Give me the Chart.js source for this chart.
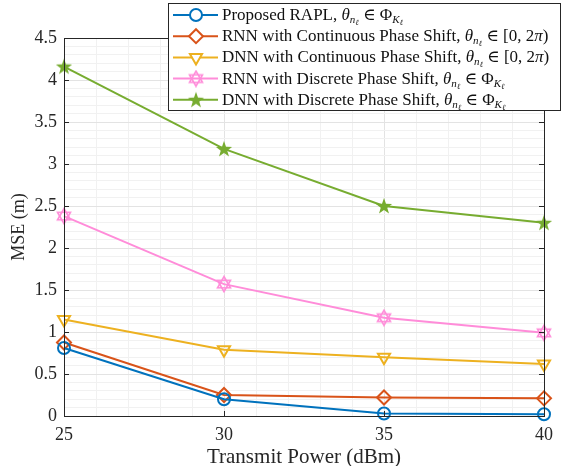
<!DOCTYPE html>
<html>
<head>
<meta charset="utf-8">
<script src="https://cdn.jsdelivr.net/npm/chart.js@4/dist/chart.umd.min.js"></script>
<style>
  html, body { margin: 0; padding: 0; background: #fff; }
  #wrap { width: 563px; height: 466px; }
</style>
</head>
<body>
<div id="wrap"><canvas id="grafica"></canvas></div>
<script>
var potencia = [25, 30, 35, 40];
var rapl = [0.81, 0.20, 0.03, 0.02];
var rnnCont = [0.875, 0.25, 0.22, 0.21];
var dnnCont = [1.15, 0.79, 0.70, 0.62];
var rnnDisc = [2.38, 1.57, 1.17, 0.99];
var dnnDisc = [4.16, 3.18, 2.50, 2.30];
var yTicks = [0, 0.5, 1, 1.5, 2, 2.5, 3, 3.5, 4, 4.5];
var xTicks = [25, 30, 35, 40];

var serif = "'Liberation Serif', 'DejaVu Serif', serif";

function puntos(ys) {
    return ys.map(function (y, i) { return { x: potencia[i], y: y }; });
}

function estrella(n, color, relleno) {
    var c = document.createElement('canvas');
    c.width = 18; c.height = 18;
    var g = c.getContext('2d');
    g.strokeStyle = color; g.fillStyle = color; g.lineWidth = 1.6;
    if (n === 5) {
        g.beginPath();
        for (var i = 0; i < 10; i++) {
            var r = i % 2 === 0 ? 8.5 : 3.4;
            var a = -Math.PI / 2 + i * Math.PI / 5;
            g.lineTo(9 + r * Math.cos(a), 9.6 + r * Math.sin(a));
        }
        g.closePath();
        if (relleno) g.fill(); else g.stroke();
    } else {
        for (var k = 0; k < 2; k++) {
            g.beginPath();
            for (var j = 0; j < 3; j++) {
                var b = (k === 0 ? -Math.PI / 2 : Math.PI / 2) + j * 2 * Math.PI / 3;
                g.lineTo(9 + 7.5 * Math.cos(b), 9 + 7.5 * Math.sin(b));
            }
            g.closePath();
            g.stroke();
        }
    }
    return c;
}

var hexagrama = estrella(6, '#ff8cd9', false);
var pentagrama = estrella(5, '#77ac30', true);

var series = [
    { label: 'Proposed RAPL, ', fin: 'phi', data: rapl, color: '#0072bd', pointStyle: 'circle', radius: 6, rotation: 0 },
    { label: 'RNN with Continuous Phase Shift, ', fin: 'int', data: rnnCont, color: '#d95319', pointStyle: 'rectRot', radius: 7, rotation: 0 },
    { label: 'DNN with Continuous Phase Shift, ', fin: 'int', data: dnnCont, color: '#edb120', pointStyle: 'triangle', radius: 7, rotation: 180 },
    { label: 'RNN with Discrete Phase Shift, ', fin: 'phi', data: rnnDisc, color: '#ff8cd9', pointStyle: hexagrama, radius: 7, rotation: 0 },
    { label: 'DNN with Discrete Phase Shift, ', fin: 'phi', data: dnnDisc, color: '#77ac30', pointStyle: pentagrama, radius: 7, rotation: 0 }
];

// caja, marcas interiores y leyenda estilo MATLAB
var marcoPlugin = {
    id: 'marco',
    afterDraw: function (chart) {
        var ctx = chart.ctx, a = chart.chartArea;
        var sx = chart.scales.x, sy = chart.scales.y;
        ctx.save();
        ctx.strokeStyle = '#262626';
        ctx.lineWidth = 1;
        ctx.strokeRect(Math.round(a.left) + 0.5, Math.round(a.top) + 0.5,
            Math.round(a.right - a.left), Math.round(a.bottom - a.top));
        ctx.beginPath();
        yTicks.forEach(function (v) {
            var y = Math.round(sy.getPixelForValue(v)) + 0.5;
            ctx.moveTo(a.left, y); ctx.lineTo(a.left + 5, y);
            ctx.moveTo(a.right, y); ctx.lineTo(a.right - 5, y);
        });
        xTicks.forEach(function (v) {
            var x = Math.round(sx.getPixelForValue(v)) + 0.5;
            ctx.moveTo(x, a.bottom); ctx.lineTo(x, a.bottom - 5);
            ctx.moveTo(x, a.top); ctx.lineTo(x, a.top + 5);
        });
        ctx.stroke();

        // leyenda
        var lx = 168, ly = 3, lw = 392, lh = 107;
        ctx.fillStyle = '#fff';
        ctx.fillRect(lx, ly, lw, lh);
        ctx.strokeStyle = '#262626';
        ctx.strokeRect(lx + 0.5, ly + 0.5, lw, lh);
        series.forEach(function (s, i) {
            var y = 15 + i * 21.2;
            ctx.strokeStyle = s.color;
            ctx.lineWidth = 2;
            ctx.beginPath();
            ctx.moveTo(173, y); ctx.lineTo(218, y);
            ctx.stroke();
            ctx.fillStyle = '#fff';
            Chart.helpers.drawPoint(ctx, {
                pointStyle: s.pointStyle, radius: s.radius, rotation: s.rotation, borderWidth: 2
            }, 196, y);
            ctx.fillStyle = '#111';
            textoMath(ctx, s.label, s.fin, 222, y + 5);
        });
        ctx.restore();
    }
};

function textoMath(ctx, texto, fin, x, base) {
    ctx.textAlign = 'left';
    ctx.textBaseline = 'alphabetic';
    var partes = [
        { t: texto, f: '17px ' + serif, dy: 0 },
        { t: '\u03b8', f: 'italic 17px ' + serif, dy: 0 },
        { t: 'n', f: 'italic 11px ' + serif, dy: 3 },
        { t: '\u2113', f: 'italic 8px ' + serif, dy: 5 }
    ];
    if (fin === 'phi') {
        partes.push({ t: ' \u2208 \u03a6', f: '17px ' + serif, dy: 0 });
        partes.push({ t: 'K', f: 'italic 11px ' + serif, dy: 3 });
        partes.push({ t: '\u2113', f: 'italic 8px ' + serif, dy: 5 });
    } else {
        partes.push({ t: ' \u2208 [0, 2', f: '17px ' + serif, dy: 0 });
        partes.push({ t: '\u03c0', f: 'italic 17px ' + serif, dy: 0 });
        partes.push({ t: ')', f: '17px ' + serif, dy: 0 });
    }
    partes.forEach(function (p) {
        ctx.font = p.f;
        ctx.fillText(p.t, x, base + p.dy);
        x += ctx.measureText(p.t).width;
    });
}

var ctx = document.getElementById('grafica').getContext('2d');
var chart = new Chart(ctx, {
    type: 'line',
    plugins: [marcoPlugin],
    data: {
        datasets: series.map(function (s) {
            return {
                label: s.label,
                data: puntos(s.data),
                borderColor: s.color,
                backgroundColor: '#fff',
                pointBorderColor: s.color,
                pointBackgroundColor: 'rgba(255,255,255,0)',
                pointStyle: s.pointStyle,
                pointRadius: s.radius,
                pointRotation: s.rotation,
                pointBorderWidth: 2,
                borderWidth: 2,
                tension: 0,
                clip: false
            };
        })
    },
    options: {
        responsive: true,
        maintainAspectRatio: false,
        animation: false,
        layout: { padding: { top: 38, right: 19, left: 0, bottom: 0 } },
        plugins: { legend: { display: false }, tooltip: { enabled: false } },
        scales: {
            x: {
                type: 'linear',
                min: 25, max: 40,
                afterFit: function (scale) { scale.height = 50; },
                afterBuildTicks: function (scale) {
                    var t = [];
                    for (var v = 25; v <= 40; v++) t.push({ value: v });
                    scale.ticks = t;
                },
                ticks: {
                    autoSkip: false, maxRotation: 0, padding: 8,
                    color: '#262626',
                    font: { family: serif, size: 18 },
                    callback: function (v) { return v % 5 === 0 ? String(v) : ''; }
                },
                grid: {
                    drawTicks: false,
                    color: function (c) { return c.tick && c.tick.value % 5 === 0 ? '#e3e3e3' : '#f1f1f1'; }
                },
                border: { display: false },
                title: {
                    display: true, text: 'Transmit Power (dBm)', color: '#262626',
                    font: { family: serif, size: 21, lineHeight: 1 }, padding: { top: 0, bottom: -2 }
                }
            },
            y: {
                min: 0, max: 4.5,
                afterFit: function (scale) { scale.width = 64; },
                afterBuildTicks: function (scale) {
                    var t = [];
                    for (var i = 0; i <= 45; i++) t.push({ value: i / 10 });
                    scale.ticks = t;
                },
                ticks: {
                    autoSkip: false, padding: 7,
                    color: '#262626',
                    font: { family: serif, size: 18 },
                    callback: function (v) {
                        var k = Math.round(v * 10);
                        return k % 5 === 0 ? String(k / 10) : '';
                    }
                },
                grid: {
                    drawTicks: false,
                    color: function (c) {
                        if (!c.tick) return '#f1f1f1';
                        return Math.round(c.tick.value * 10) % 5 === 0 ? '#e3e3e3' : '#f1f1f1';
                    }
                },
                border: { display: false },
                title: {
                    display: true, text: 'MSE (m)', color: '#262626',
                    font: { family: serif, size: 18 }, padding: { top: 8, bottom: 4 }
                }
            }
        }
    }
});
</script>
</body>
</html>
